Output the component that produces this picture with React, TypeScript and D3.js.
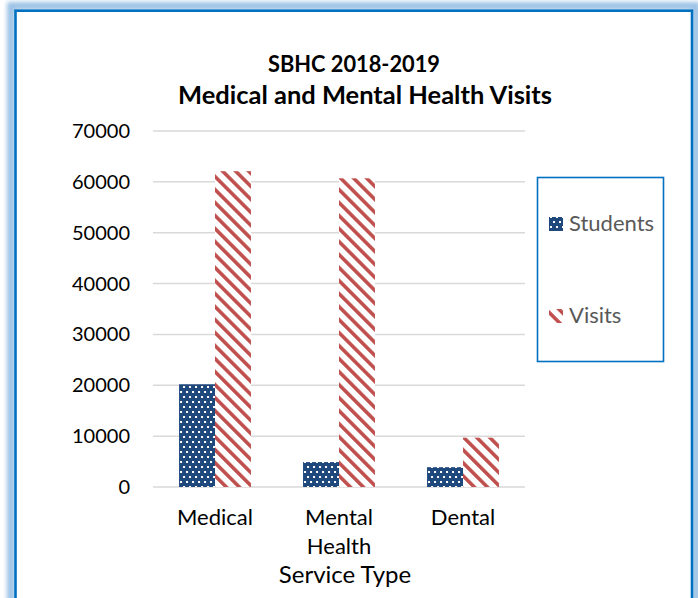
import React from 'react'
import * as d3 from 'd3'

const categories = ['Medical', 'Mental Health', 'Dental']
const seriesNames = ['Students', 'Visits']
const students = [20200, 4900, 3900]
const visits = [62100, 60700, 9700]
const yTicks = [0, 10000, 20000, 30000, 40000, 50000, 60000, 70000]

const W = 698
const H = 598
const FONT = 'Lato, "Open Sans", sans-serif'

export default function App() {
  const plot = {left: 153, right: 525, top: 131, bottom: 487}

  const y = d3.scaleLinear().domain([0, 70000]).range([plot.bottom, plot.top])
  const x0 = d3.scaleBand<string>()
    .domain(categories)
    .range([plot.left, plot.right])
    .paddingInner(0.42)
    .paddingOuter(0.21)
  const x1 = d3.scaleBand<string>().domain(seriesNames).range([0, x0.bandwidth()])

  const rows = categories.map((c, i) => ({cat: c, Students: students[i], Visits: visits[i]}))
  const fillFor = (s: string) => (s === 'Students' ? 'url(#dots)' : 'url(#stripes)')

  return (
    <svg width={W} height={H} style={{position: 'absolute', left: 0, top: 0}}>
      <defs>
        <pattern id="dots" patternUnits="userSpaceOnUse" width="6" height="10">
          <rect width="6" height="10" fill="#1F497D" />
          <rect x="1" y="1" width="2" height="2" fill="#fff" />
          <rect x="4" y="6" width="2" height="2" fill="#fff" />
        </pattern>
        <pattern id="stripes" patternUnits="userSpaceOnUse" width="9.2" height="9.2"
          patternTransform="rotate(-45)">
          <rect width="9.2" height="9.2" fill="#fff" />
          <rect x="0" y="0" width="3.6" height="9.2" fill="#C0504D" />
        </pattern>
        <filter id="glow" x="-5%" y="-5%" width="110%" height="110%">
          <feGaussianBlur stdDeviation="2" />
        </filter>
      </defs>

      <rect x={0} y={0} width={W} height={H} fill="#fff" />

      {/* outer frame with soft glow */}
      <rect x={11} y={6} width={685} height={640} fill="none" stroke="#9DC3E6"
        strokeWidth={8} filter="url(#glow)" />
      <rect x={15.5} y={10.7} width={676.5} height={640} fill="#fff" stroke="#0070C0"
        strokeWidth={2.6} />

      {/* title */}
      <text x={354} y={72} textAnchor="middle" fontFamily={FONT} fontWeight="bold"
        fontSize={23} textLength={172} lengthAdjust="spacingAndGlyphs" fill="#000">SBHC 2018-2019</text>
      <text x={365} y={104} textAnchor="middle" fontFamily={FONT} fontWeight="bold"
        fontSize={24} textLength={374} lengthAdjust="spacingAndGlyphs" fill="#000">Medical and Mental Health Visits</text>

      {/* gridlines + y labels */}
      {yTicks.map(t => (
        <g key={t}>
          <line x1={plot.left} x2={plot.right} y1={y(t)} y2={y(t)} stroke="#D9D9D9"
            strokeWidth={1.5} />
          <text x={130} y={y(t)} dy="0.35em" textAnchor="end" fontFamily={FONT}
            fontSize={20} fill="#000">{t}</text>
        </g>
      ))}

      {/* bars */}
      {rows.map(r => (
        <g key={r.cat} transform={`translate(${x0(r.cat)},0)`}>
          {seriesNames.map(s => (
            <rect key={s} x={x1(s)} y={y((r as any)[s])} width={x1.bandwidth()}
              height={plot.bottom - y((r as any)[s])} fill={fillFor(s)} />
          ))}
        </g>
      ))}

      {/* x labels */}
      {categories.map(c => {
        const cx = (x0(c) as number) + x0.bandwidth() / 2
        const lines = c === 'Mental Health' ? ['Mental', 'Health'] : [c]
        return (
          <text key={c} x={cx} y={525} textAnchor="middle" fontFamily={FONT} fontSize={22}
            fill="#000">
            {lines.map((l, i) => (
              <tspan key={l} x={cx} dy={i === 0 ? 0 : 29}>{l}</tspan>
            ))}
          </text>
        )
      })}
      <text x={345} y={583} textAnchor="middle" fontFamily={FONT} fontSize={24}
        fill="#000">Service Type</text>

      {/* legend */}
      <rect x={537.5} y={177.5} width={126} height={184} fill="#fff" stroke="#0070C0"
        strokeWidth={1.6} />
      {seriesNames.map((s, i) => {
        const yy = i === 0 ? 217 : 309
        return (
          <g key={s}>
            <rect x={549} y={yy} width={14} height={14} fill={fillFor(s)} />
            <text x={569} y={yy + 14} fontFamily={FONT} fontSize={22} fill="#595959">{s}</text>
          </g>
        )
      })}
    </svg>
  )
}
